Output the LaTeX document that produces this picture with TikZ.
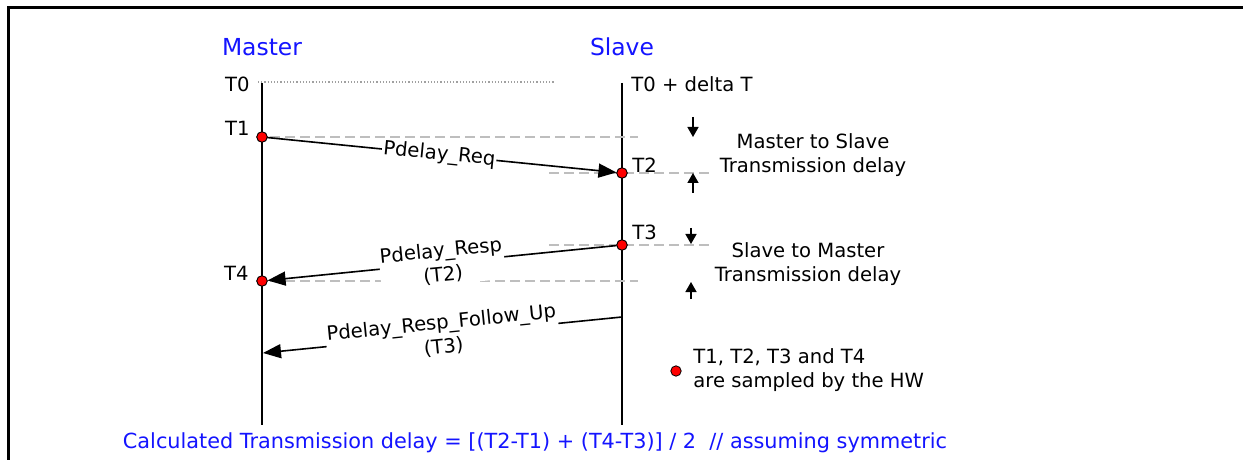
\documentclass[tikz,border=0pt]{standalone}
\usepackage{fontspec}
\setmainfont{DejaVu Sans}
\usepackage{xcolor}
\definecolor{headblue}{RGB}{20, 20, 255}
\definecolor{guidegray}{RGB}{190, 190, 190}
\definecolor{zerogray}{RGB}{160, 160, 160}
\definecolor{samplered}{RGB}{255, 0, 0}
\usepackage{tikz}
\usetikzlibrary{arrows.meta,positioning}

\begin{document}
\begin{tikzpicture}[x=0.5pt,y=-0.5pt,
    lbl/.style={inner sep=0pt,font=\fontsize{9.8}{12}\selectfont},
    head/.style={inner sep=0pt,text=headblue,font=\fontsize{11.7}{14}\selectfont},
    foot/.style={inner sep=0pt,text=headblue,font=\fontsize{10.4}{12}\selectfont},
    lifeline/.style={line width=0.8pt},
    sample/.style={circle,draw=black,fill=samplered,line width=0.4pt,
      inner sep=0pt,minimum size=5.2pt},
    msg/.style={line width=0.8pt,-{Triangle[length=9pt,width=7pt]}},
    msglabel/.style={sloped,fill=white,inner sep=0.6pt,align=center,
      font=\fontsize{9.8}{12}\selectfont},
    guide/.style={guidegray,line width=0.8pt,dash pattern=on 5pt off 2.5pt},
    zeroline/.style={zerogray,line width=0.6pt,densely dotted},
    delay/.style={line width=0.7pt,-{Triangle[length=5pt,width=5.5pt]}}]
  \fill[white] (0,0) rectangle (1244,460);
  \useasboundingbox (0,0) rectangle (1244,460);
  \draw[line width=1.5pt] (8,461) -- (8,8) -- (1243,8);

  % headings and lifelines
  \node[head] (master) at (262,47) {Master};
  \node[head] (slave) at (622,47) {Slave};
  \coordinate (mtop) at (262,83);
  \coordinate (mbot) at (262,425);
  \coordinate (stop) at (622,83);
  \coordinate (sbot) at (622,425);
  \draw[lifeline] (mtop) -- (mbot);
  \draw[lifeline] (stop) -- (sbot);

  % time stamps
  \node[lbl,anchor=east] (t0m) at (250,84) {T0};
  \node[lbl,anchor=west] (t0s) at (631,84) {T0 + delta T};
  \node[lbl,anchor=east] (t1lbl) at (250,128) {T1};
  \node[lbl,anchor=west] (t2lbl) at (632,165) {T2};
  \node[lbl,anchor=west] (t3lbl) at (632,232) {T3};
  \node[lbl,anchor=east] (t4lbl) at (249,273) {T4};

  \coordinate (zeroa) at (258,82);
  \coordinate (zerob) at (555,82);
  \draw[zeroline] (zeroa) -- (zerob);

  \draw[guide] (270,137) -- (638,137);
  \draw[guide] (549,173) -- (711,173);
  \draw[guide] (549,245) -- (711,245);
  \draw[guide] (270,281) -- (638,281);

  \node[sample] (t1) at (262,137) {};
  \node[sample] (t2) at (622,173) {};
  \node[sample] (t3) at (622,245) {};
  \node[sample] (t4) at (262,281) {};

  % messages
  \draw[msg] (t1.center) -- node[msglabel] {Pdelay\_Req} (t2);
  \draw[msg] (t3) -- node[msglabel] {Pdelay\_Resp\\(T2)} (t4);
  \coordinate (fustart) at (622,317);
  \coordinate (fuend) at (263,353);
  \draw[msg] (fustart) -- node[msglabel] {Pdelay\_Resp\_Follow\_Up\\(T3)} (fuend);
  \node[sample] at (262,137) {};
  \node[sample] at (622,173) {};
  \node[sample] at (622,245) {};
  \node[sample] at (262,281) {};

  % delay markers
  \draw[delay] (693,117) -- (693,137);
  \draw[delay] (693,193) -- (693,173);
  \node[lbl,align=center] (m2s) at (813,155) {Master to Slave\\Transmission delay};
  \draw[delay] (691,228) -- (691,244);
  \draw[delay] (691,299) -- (691,282);
  \node[lbl,align=center] (s2m) at (808,264) {Slave to Master\\Transmission delay};

  % legend
  \node[sample] (key) at (676,371) {};
  \node[lbl,align=left,anchor=west] (keytxt) at (693,370)
    {T1, T2, T3 and T4\\are sampled by the HW};

  \node[foot] (calc) at (535,443)
    {Calculated Transmission delay = [(T2-T1) + (T4-T3)] / 2\ \ // assuming symmetric};
\end{tikzpicture}
\end{document}
